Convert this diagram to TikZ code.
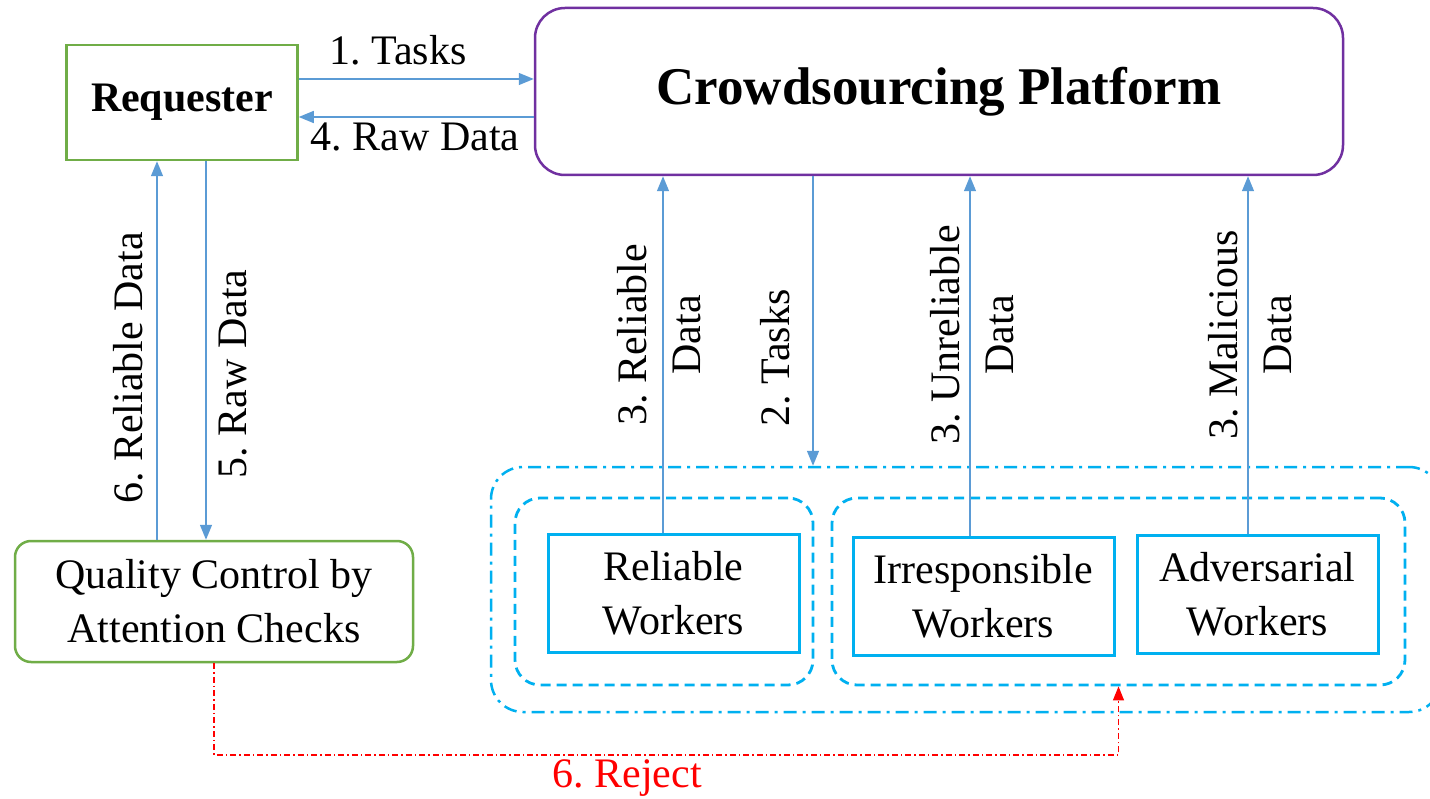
\documentclass[tikz,border=0pt]{standalone}
\usepackage{fontspec}
\setmainfont{Liberation Serif}[UprightFont=*, BoldFont=* Bold, ItalicFont=* Italic]
\frenchspacing
\usetikzlibrary{arrows.meta,calc}
\definecolor{arrblue}{HTML}{5B9BD5}
\definecolor{grn}{HTML}{70AD47}
\definecolor{purp}{HTML}{7030A0}
\definecolor{cyn}{HTML}{00B0F0}
\newcommand\mylbl{\rmfamily\fontsize{42}{54}\selectfont}
\tikzset{
  arr/.style={draw=arrblue, line width=1.4pt, -{Triangle[length=15pt,width=12pt]}},
  greenbox/.style={draw=grn, line width=2.5pt, font=\mylbl, align=center},
  workerbox/.style={draw=cyn, line width=3pt, font=\mylbl, align=center, inner sep=0pt},
  grpbox/.style={draw=cyn, line width=2.8pt, rounded corners=25pt, dash pattern=on 10pt off 6pt},
  outerbox/.style={draw=cyn, line width=2.5pt, rounded corners=32pt, dash pattern=on 13pt off 6pt on 3pt off 6pt},
  lab/.style={font=\mylbl, align=center, inner sep=0pt},
  rejarr/.style={draw=red, line width=1.2pt, dash pattern=on 6pt off 3pt on 1.5pt off 3pt, -{Triangle[length=14pt,width=11pt]}}
}
\begin{document}
\begin{tikzpicture}[x=1pt,y=-1pt]
\clip (0,0) rectangle (1430,799);
\fill[white] (0,0) rectangle (1430,799);
% main nodes
\node[greenbox, minimum width=231pt, minimum height=115pt, font=\mylbl\bfseries] (req) at (182,102.5) {Requester};
\node[draw=purp, line width=2.5pt, rounded corners=30pt, minimum width=808pt, minimum height=167pt, font=\rmfamily\fontsize{53}{60}\selectfont\bfseries] (plat) at (939,91.5) {Crowdsourcing Platform};
\node[greenbox, rounded corners=16pt, minimum width=398pt, minimum height=121pt] (qc) at (214,601.5) {Quality Control by\\Attention Checks};
% groups
\node[outerbox, minimum width=950pt, minimum height=245pt] (outer) at (966,589.5) {};
\node[grpbox, minimum width=298pt, minimum height=187pt] (lgrp) at (664,591.5) {};
\node[grpbox, minimum width=573pt, minimum height=187pt] (rgrp) at (1118.5,591.5) {};
% workers
\node[workerbox, minimum width=251pt, minimum height=118pt] (rel) at (673.5,593) {Reliable\\Workers};
\node[workerbox, minimum width=261pt, minimum height=118pt] (irr) at (983.5,596) {Irresponsible\\Workers};
\node[workerbox, minimum width=241pt, minimum height=118pt] (adv) at (1257.5,594) {Adversarial\\Workers};
% helper coordinates
\coordinate (yA) at (0,79);
\coordinate (yB) at (0,117);
\coordinate (xA) at (157,0);
\coordinate (xB) at (206,0);
\coordinate (xT) at (813,0);
\coordinate (xR) at (663,0);
\coordinate (xU) at (970,0);
\coordinate (xM) at (1248,0);
\coordinate (yR) at (0,755);
% top arrows
\draw[arr] (req.east |- yA) -- (plat.west |- yA);
\draw[arr] (plat.west |- yB) -- (req.east |- yB);
\node[lab] (l1) at (398,50) {1. Tasks};
\node[lab] (l4) at (415,137) {4. Raw Data};
% requester <-> quality control
\draw[arr] (qc.north -| xA) -- (req.south -| xA);
\draw[arr] (req.south -| xB) -- (qc.north -| xB);
\node[lab, rotate=90] (l6) at (128,368) {6. Reliable Data};
\node[lab, rotate=90] (l5) at (233,374) {5. Raw Data};
% platform <-> workers
\draw[arr] (plat.south -| xT) -- (outer.north -| xT);
\draw[arr] (rel.north -| xR) -- (plat.south -| xR);
\draw[arr] (irr.north -| xU) -- (plat.south -| xU);
\draw[arr] (adv.north -| xM) -- (plat.south -| xM);
\node[lab, rotate=90] (l2) at (775,358) {2. Tasks};
\node[lab, rotate=90] (l3a) at (659,335) {3. Reliable\\Data};
\node[lab, rotate=90] (l3b) at (972,335) {3. Unreliable\\Data};
\node[lab, rotate=90] (l3c) at (1250,335) {3. Malicious\\Data};
% reject
\draw[rejarr] (qc.south) -- (qc.south |- yR) -| (rgrp.south);
\node[lab, text=red] (lr) at (627,778) {6. Reject};
\end{tikzpicture}
\end{document}
